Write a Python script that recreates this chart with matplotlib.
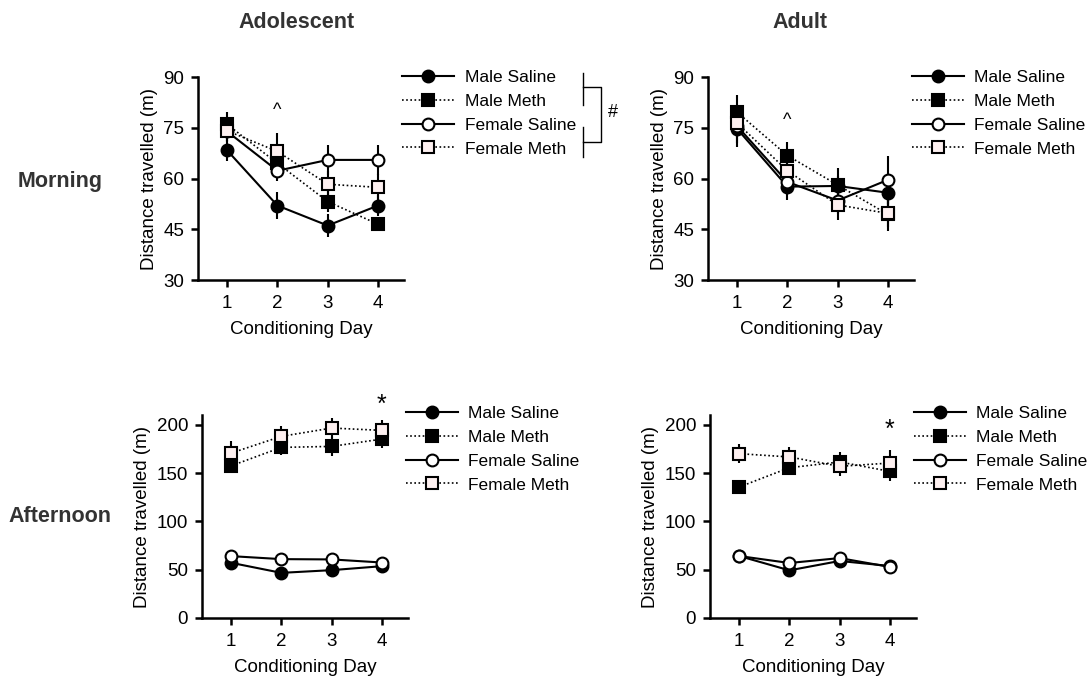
import matplotlib.pyplot as plt
from matplotlib.lines import Line2D

plt.rcParams['font.family'] = ['Liberation Sans', 'DejaVu Sans']

days = [1, 2, 3, 4]
groups = ["Male Saline", "Male Meth", "Female Saline", "Female Meth"]

# adolescent, morning
ado_am = {
    "Male Saline": [68.3, 52.0, 46.1, 52.0],
    "Male Meth": [76.0, 64.5, 53.2, 46.5],
    "Female Saline": [73.9, 62.3, 65.5, 65.5],
    "Female Meth": [74.1, 68.0, 58.3, 57.4],
}
ado_am_err = {
    "Male Saline": [3.0, 4.0, 3.5, 3.0],
    "Male Meth": [3.8, 3.0, 3.0, 2.0],
    "Female Saline": [3.0, 3.0, 4.5, 4.5],
    "Female Meth": [3.0, 5.5, 4.0, 4.0],
}
# adult, morning
adu_am = {
    "Male Saline": [74.7, 57.6, 57.8, 55.8],
    "Male Meth": [79.6, 66.8, 58.1, 49.4],
    "Female Saline": [75.5, 59.0, 53.5, 59.6],
    "Female Meth": [76.4, 62.3, 52.2, 49.7],
}
adu_am_err = {
    "Male Saline": [5.5, 4.0, 3.0, 4.0],
    "Male Meth": [5.0, 4.0, 5.0, 5.0],
    "Female Saline": [5.0, 4.0, 4.0, 7.0],
    "Female Meth": [4.0, 4.0, 4.5, 4.0],
}
# adolescent, afternoon
ado_pm = {
    "Male Saline": [57.1, 46.7, 49.5, 53.6],
    "Male Meth": [157.4, 176.5, 177.5, 185.1],
    "Female Saline": [64.0, 60.9, 60.6, 57.4],
    "Female Meth": [170.6, 187.9, 196.5, 194.1],
}
ado_pm_err = {
    "Male Saline": [3.0, 3.0, 3.0, 3.0],
    "Male Meth": [7.0, 8.0, 10.0, 9.0],
    "Female Saline": [3.0, 3.0, 3.0, 3.0],
    "Female Meth": [12.0, 11.0, 10.0, 11.0],
}
# adult, afternoon
adu_pm = {
    "Male Saline": [64.1, 49.3, 59.0, 53.8],
    "Male Meth": [135.5, 155.5, 161.4, 151.7],
    "Female Saline": [64.1, 56.9, 62.0, 52.8],
    "Female Meth": [170.0, 166.6, 156.9, 160.3],
}
adu_pm_err = {
    "Male Saline": [3.0, 3.0, 3.0, 3.0],
    "Male Meth": [7.0, 7.0, 10.0, 10.0],
    "Female Saline": [3.0, 3.0, 3.0, 3.0],
    "Female Meth": [10.0, 10.0, 10.0, 14.0],
}

styles = {
    "Male Saline": dict(marker='o', ls='-', lw=1.5, mfc='black', ms=8.5),
    "Male Meth": dict(marker='s', ls=(0, (1, 1.5)), lw=1.2, mfc='black', ms=9),
    "Female Saline": dict(marker='o', ls='-', lw=1.5, mfc='white', ms=8.5),
    "Female Meth": dict(marker='s', ls=(0, (1, 1.5)), lw=1.2, mfc='#fdf0f0', ms=9),
}


def draw_panel(ax, data, err, ylim, yticks, leg_y):
    handles = []
    for g in groups:
        st = styles[g]
        ax.errorbar(days, data[g], yerr=err[g], color='black', ecolor='black',
                    elinewidth=1.5, capsize=0, marker=st['marker'], ms=st['ms'],
                    mfc=st['mfc'], mec='black', mew=1.5, ls=st['ls'], lw=st['lw'])
        handles.append(Line2D([], [], color='black', marker=st['marker'], ms=st['ms'],
                              mfc=st['mfc'], mec='black', mew=1.5, ls=st['ls'],
                              lw=st['lw'], label=g))
    ax.set_xlim(0.42, 4.52)
    ax.set_ylim(*ylim)
    ax.set_yticks(yticks)
    ax.set_xticks(days)
    for s in ['top', 'right']:
        ax.spines[s].set_visible(False)
    for s in ['left', 'bottom']:
        ax.spines[s].set_linewidth(1.8)
    ax.tick_params(direction='out', length=5, width=1.8, labelsize=13.5, pad=5)
    ax.tick_params(axis='x', pad=6)
    ax.set_xlabel("Conditioning Day", fontsize=13.5, labelpad=6)
    ax.set_ylabel("Distance travelled (m)", fontsize=13.5, labelpad=4)
    ax.legend(handles=handles, loc='upper left', bbox_to_anchor=(0.99, leg_y),
              frameon=False, fontsize=12.5, handlelength=3.0, handletextpad=0.6,
              labelspacing=0.5, borderpad=0, borderaxespad=0)


fig = plt.figure(figsize=(10.9, 6.78), dpi=100)
ax1 = fig.add_axes([0.1817, 0.587, 0.189, 0.2994])
ax2 = fig.add_axes([0.6495, 0.587, 0.189, 0.2994])
ax3 = fig.add_axes([0.1853, 0.0885, 0.189, 0.2994])
ax4 = fig.add_axes([0.6514, 0.0885, 0.189, 0.2994])

draw_panel(ax1, ado_am, ado_am_err, (30, 90), [30, 45, 60, 75, 90], 1.035)
draw_panel(ax2, adu_am, adu_am_err, (30, 90), [30, 45, 60, 75, 90], 1.035)
draw_panel(ax3, ado_pm, ado_pm_err, (0, 210), [0, 50, 100, 150, 200], 1.045)
draw_panel(ax4, adu_pm, adu_pm_err, (0, 210), [0, 50, 100, 150, 200], 1.045)

# significance marks
ax1.text(2, 80.2, "^", ha='center', va='center', fontsize=13)
ax2.text(2, 77.2, "^", ha='center', va='center', fontsize=13)
ax3.text(4, 221, "*", ha='center', va='center', fontsize=18, clip_on=False)
ax4.text(4, 195, "*", ha='center', va='center', fontsize=18)

# bracket with '#'
bx0, bx1 = 1.869, 1.956
for ys in [(1.02, 0.862), (0.754, 0.606)]:
    ax1.add_line(Line2D([bx0, bx0], ys, transform=ax1.transAxes, color='black',
                        lw=1.0, clip_on=False))
ax1.add_line(Line2D([bx0, bx1, bx1, bx0], [0.951, 0.951, 0.680, 0.680],
                    transform=ax1.transAxes, color='black', lw=1.0, clip_on=False))
ax1.text(1.99, 0.823, "#", transform=ax1.transAxes, ha='left', va='center', fontsize=13)

# row / column headers
hdr = dict(fontsize=15.5, fontweight='bold', color='#333333', ha='center', va='center')
fig.text(297 / 1090, 1 - 22 / 678, "Adolescent", **hdr)
fig.text(800 / 1090, 1 - 22 / 678, "Adult", **hdr)
fig.text(60 / 1090, 1 - 182 / 678, "Morning", **hdr)
fig.text(60 / 1090, 1 - 517 / 678, "Afternoon", **hdr)

fig.savefig("out.png", dpi=100)
